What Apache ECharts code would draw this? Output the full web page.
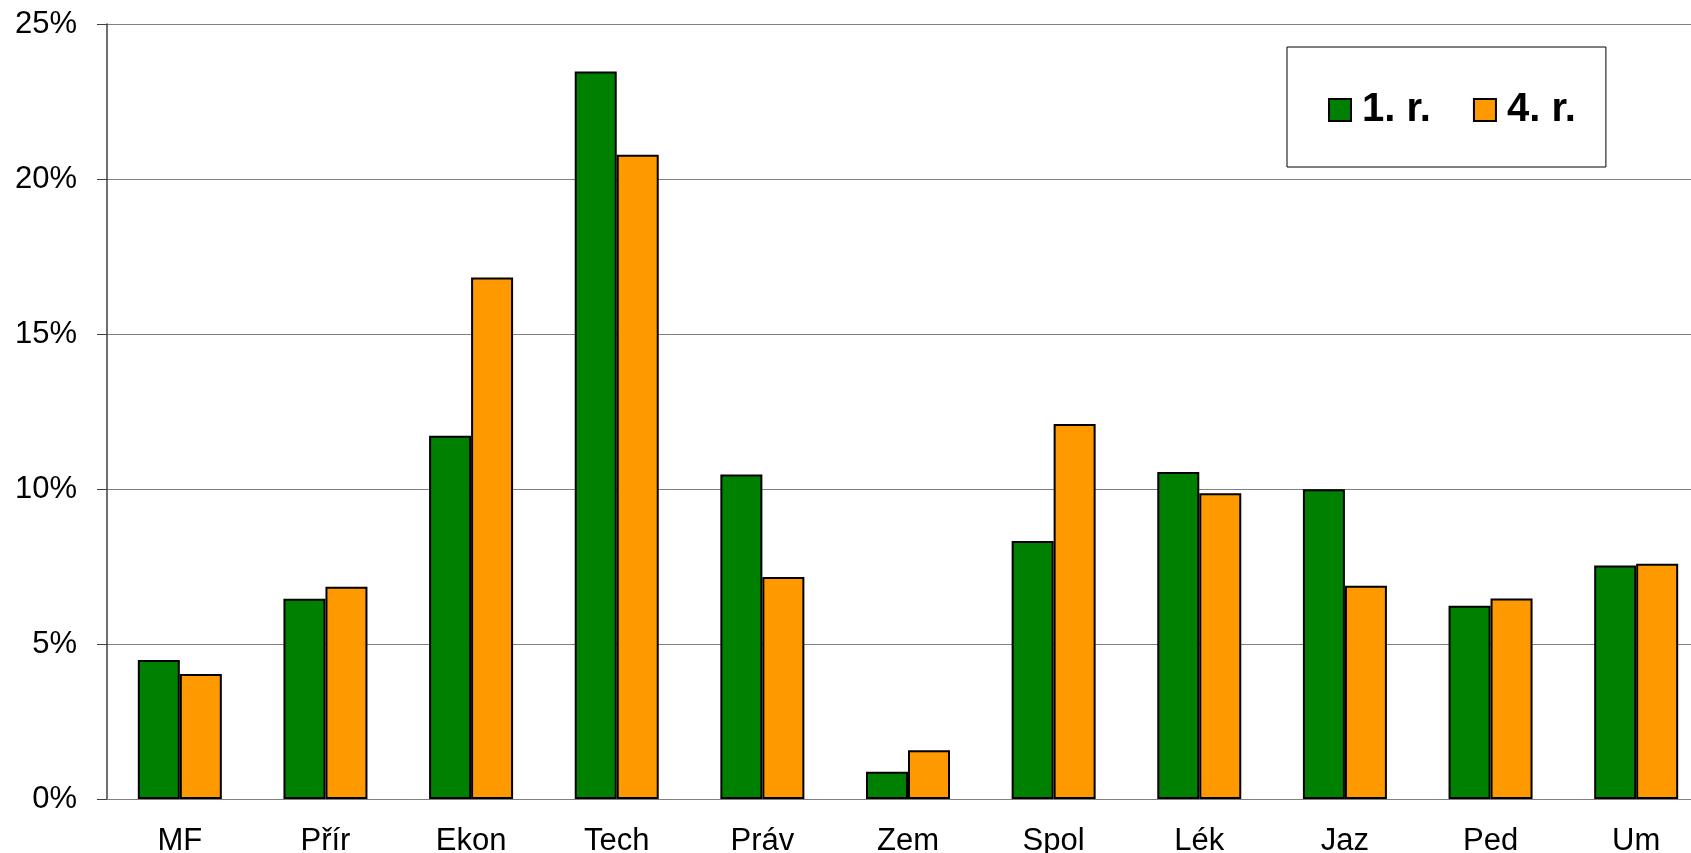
<!DOCTYPE html>
<html>
<head>
<meta charset="utf-8">
<script src="https://cdn.jsdelivr.net/npm/echarts@6/dist/echarts.min.js"></script>
<style>
    html, body { margin: 0; padding: 0; background: #fff; }
    #chart { width: 1691px; height: 853px; }
</style>
</head>
<body>
<div id="chart"></div>
<script>
    // obory
    const categories = ['MF', 'Přír', 'Ekon', 'Tech', 'Práv', 'Zem', 'Spol', 'Lék', 'Jaz', 'Ped', 'Um'];
    // podíly v %
    const firstYear = [4.48, 6.46, 11.72, 23.47, 10.47, 0.88, 8.32, 10.55, 9.99, 6.23, 7.53];
    const fourthYear = [4.03, 6.85, 16.82, 20.78, 7.16, 1.57, 12.1, 9.86, 6.88, 6.47, 7.59];
    const yTicks = [0, 5, 10, 15, 20, 25];

    const chart = echarts.init(document.getElementById('chart'));
    const font = 'Liberation Sans, Arial, sans-serif';

    const option = {
        animation: false,
        textStyle: { fontFamily: font },
        legend: {
            left: 1287,
            top: 47,
            padding: [43, 30, 37, 41],
            borderColor: '#000',
            borderWidth: 1,
            icon: 'rect',
            itemWidth: 22,
            itemHeight: 22,
            itemGap: 42,
            textStyle: {
                fontFamily: font,
                fontSize: 40,
                fontWeight: 'bold',
                color: '#000',
                padding: [0, 0, 0, 6]
            },
            data: ['1. r.', '4. r.']
        },
        grid: {
            left: 107,
            top: 24,
            width: 1602,
            height: 775,
            outerBoundsMode: 'none'
        },
        xAxis: {
            type: 'category',
            data: categories,
            axisLine: { lineStyle: { color: '#808080', width: 1 } },
            axisTick: { length: 10, lineStyle: { color: '#404040' } },
            axisLabel: { fontSize: 31, color: '#000', margin: 27, fontFamily: font }
        },
        yAxis: {
            type: 'value',
            min: yTicks[0],
            max: yTicks[yTicks.length - 1],
            interval: 5,
            axisLine: { show: true, lineStyle: { color: '#404040', width: 1.5 } },
            axisTick: { show: true, length: 10, lineStyle: { color: '#404040' } },
            axisLabel: { fontSize: 31, color: '#000', margin: 30, fontFamily: font, formatter: '{value}%' },
            splitLine: { lineStyle: { color: '#808080', width: 1.2 } }
        },
        series: [
            {
                name: '1. r.',
                type: 'bar',
                data: firstYear,
                barWidth: 42,
                barGap: '0%',
                itemStyle: { color: '#008000', borderColor: '#000', borderWidth: 2 }
            },
            {
                name: '4. r.',
                type: 'bar',
                data: fourthYear,
                barWidth: 42,
                barGap: '0%',
                itemStyle: { color: '#FF9900', borderColor: '#000', borderWidth: 2 }
            }
        ]
    };
    chart.setOption(option);
</script>
</body>
</html>
